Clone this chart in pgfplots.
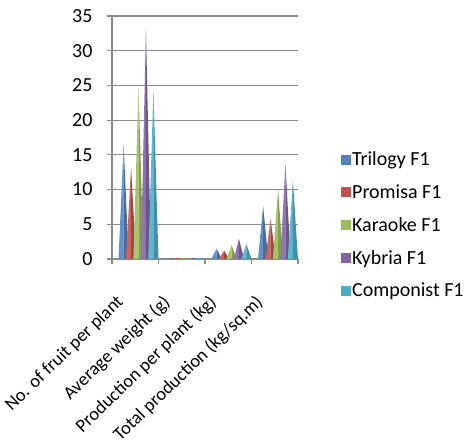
\documentclass[border=0pt]{standalone}
\usepackage{pgfplots}
\pgfplotsset{compat=1.18}
\usepackage{fontspec}
\setmainfont{Carlito}
\definecolor{cA}{HTML}{4F81BD}
\definecolor{cB}{HTML}{C0504D}
\definecolor{cC}{HTML}{9BBB59}
\definecolor{cD}{HTML}{8064A2}
\definecolor{cE}{HTML}{4BACC6}
\definecolor{gridc}{HTML}{8C8C8C}
\begin{document}
\begin{tikzpicture}
\useasboundingbox (0bp,0bp) rectangle (476bp,448bp);
\begin{axis}[
  at={(112bp,189bp)}, anchor=south west,
  scale only axis, width=186bp, height=243bp,
  xmin=-0.5, xmax=3.5, ymin=0, ymax=35,
  ytick={0,5,...,35},
  /pgf/number format/assume math mode=true,
  xtick={-0.5,0.5,1.5,2.5,3.5}, xticklabels={},
  extra x ticks={0,1,2,3},
  extra x tick labels={No. of fruit per plant,Average weight (g),Production per plant (kg),Total production (kg/sq.m)},
  extra x tick style={major tick length=0pt, grid=none,
     xticklabel style={font=\fontsize{18.5bp}{22bp}\selectfont, xshift=-12bp, yshift=-38bp, rotate=44, anchor=east}},
  axis x line*=bottom, axis y line*=left,
  axis line style={gridc, line width=1.6bp, -},
  ymajorgrids, grid style={gridc, line width=1.1bp},
  tick align=outside, major tick length=5bp,
  tick style={gridc, line width=1.2bp},
  tick label style={font=\fontsize{20bp}{24bp}\selectfont, text=black},
  yticklabel style={xshift=-11bp},
  legend style={at={(1.215,0.14)}, anchor=west, draw=none, fill=none,
     font=\fontsize{20bp}{24bp}\selectfont, row sep=13.5bp},
  legend cell align=left,
]
% left (lit) and right (shaded) faces of each pyramid
\addplot[fill=cA!88!white, draw=none, forget plot] coordinates {
 (-0.36,0) (-0.25,16.5) (-0.25,0) (0.64,0) (0.75,0.15) (0.75,0)
 (1.64,0) (1.75,1.5) (1.75,0) (2.64,0) (2.75,7.6) (2.75,0)};
\addplot[fill=cA!85!black, draw=none, forget plot] coordinates {
 (-0.25,0) (-0.25,16.5) (-0.14,0) (0.75,0) (0.75,0.15) (0.86,0)
 (1.75,0) (1.75,1.5) (1.86,0) (2.75,0) (2.75,7.6) (2.86,0)};
\addplot[fill=cB!88!white, draw=none, forget plot] coordinates {
 (-0.20,0) (-0.09,13.1) (-0.09,0) (0.80,0) (0.91,0.15) (0.91,0)
 (1.80,0) (1.91,1.2) (1.91,0) (2.80,0) (2.91,5.8) (2.91,0)};
\addplot[fill=cB!85!black, draw=none, forget plot] coordinates {
 (-0.09,0) (-0.09,13.1) (0.02,0) (0.91,0) (0.91,0.15) (1.02,0)
 (1.91,0) (1.91,1.2) (2.02,0) (2.91,0) (2.91,5.8) (3.02,0)};
\addplot[fill=cC!88!white, draw=none, forget plot] coordinates {
 (-0.04,0) (0.07,24.7) (0.07,0) (0.96,0) (1.07,0.15) (1.07,0)
 (1.96,0) (2.07,2.0) (2.07,0) (2.96,0) (3.07,10.0) (3.07,0)};
\addplot[fill=cC!85!black, draw=none, forget plot] coordinates {
 (0.07,0) (0.07,24.7) (0.18,0) (1.07,0) (1.07,0.15) (1.18,0)
 (2.07,0) (2.07,2.0) (2.18,0) (3.07,0) (3.07,10.0) (3.18,0)};
\addplot[fill=cD!88!white, draw=none, forget plot] coordinates {
 (0.12,0) (0.23,33.0) (0.23,0) (1.12,0) (1.23,0.15) (1.23,0)
 (2.12,0) (2.23,2.9) (2.23,0) (3.12,0) (3.23,13.7) (3.23,0)};
\addplot[fill=cD!85!black, draw=none, forget plot] coordinates {
 (0.23,0) (0.23,33.0) (0.34,0) (1.23,0) (1.23,0.15) (1.34,0)
 (2.23,0) (2.23,2.9) (2.34,0) (3.23,0) (3.23,13.7) (3.34,0)};
\addplot[fill=cE!88!white, draw=none, forget plot] coordinates {
 (0.28,0) (0.39,24.3) (0.39,0) (1.28,0) (1.39,0.15) (1.39,0)
 (2.28,0) (2.39,2.2) (2.39,0) (3.28,0) (3.39,11.2) (3.39,0)};
\addplot[fill=cE!85!black, draw=none, forget plot] coordinates {
 (0.39,0) (0.39,24.3) (0.50,0) (1.39,0) (1.39,0.15) (1.50,0)
 (2.39,0) (2.39,2.2) (2.50,0) (3.39,0) (3.39,11.2) (3.50,0)};
\addlegendimage{only marks, mark=square*, mark size=4.5bp, cA}
\addlegendentry{Trilogy F1}
\addlegendimage{only marks, mark=square*, mark size=4.5bp, cB}
\addlegendentry{Promisa F1}
\addlegendimage{only marks, mark=square*, mark size=4.5bp, cC}
\addlegendentry{Karaoke F1}
\addlegendimage{only marks, mark=square*, mark size=4.5bp, cD}
\addlegendentry{Kybria F1}
\addlegendimage{only marks, mark=square*, mark size=4.5bp, cE}
\addlegendentry{Componist F1}
\end{axis}
\end{tikzpicture}
\end{document}
